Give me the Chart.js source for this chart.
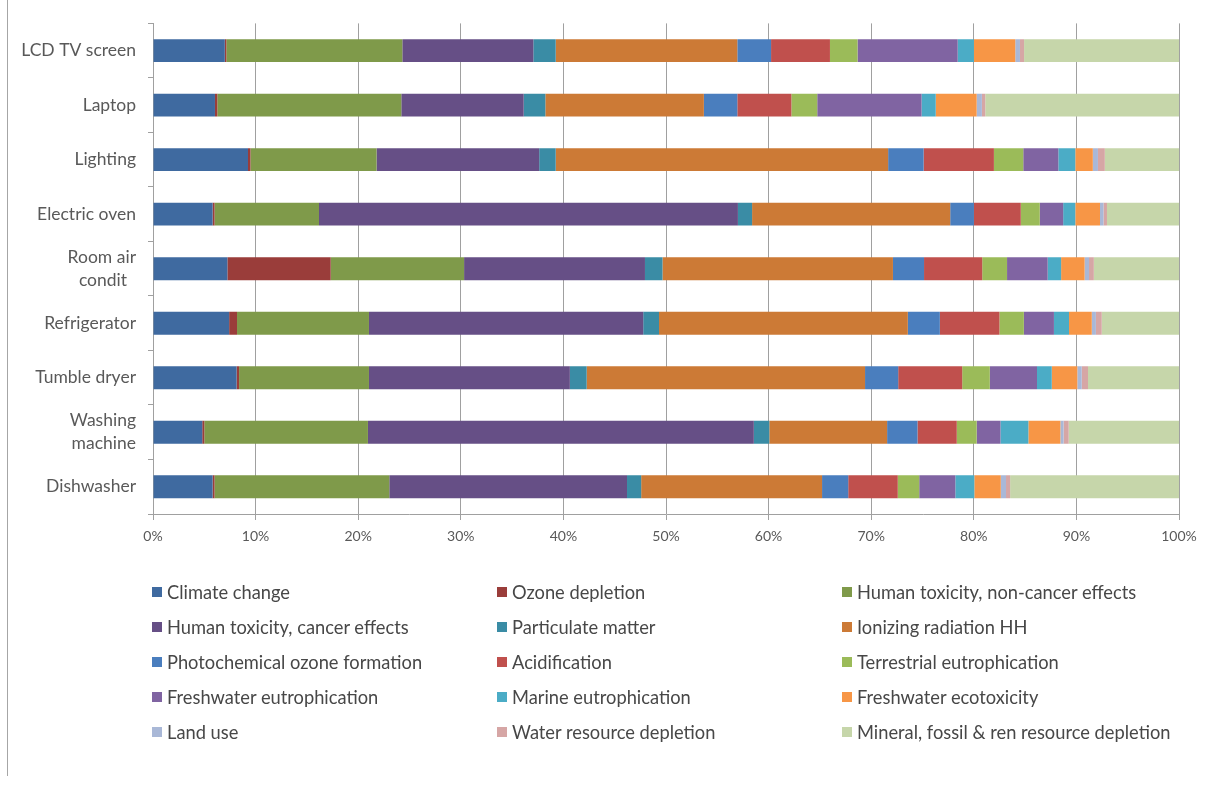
<!DOCTYPE html>
<html>
<head>
<meta charset="utf-8">
<script src="https://cdn.jsdelivr.net/npm/chart.js@4/dist/chart.umd.min.js"></script>
<style>
  html, body { margin: 0; padding: 0; background: #ffffff; }
  #wrap { position: relative; width: 1213px; height: 790px; overflow: hidden; background: #ffffff; }
  #frameLine { position: absolute; left: 7px; top: 0; width: 1px; height: 776px; background: #a6a6a6; }
  #chart { position: absolute; left: 0; top: 0; }
  #legend {
    position: absolute; left: 152px; top: 574px;
    display: grid; grid-template-columns: 345px 345px 340px; grid-auto-rows: 35.1px;
    font-family: Lato, "Open Sans", sans-serif; font-size: 18.3px; color: #474747;
  }
  .item { display: flex; align-items: center; white-space: nowrap; }
  .swatch { width: 10px; height: 10px; margin-right: 5px; flex: 0 0 auto; }
</style>
</head>
<body>
<div id="wrap">
  <div id="frameLine"></div>
  <canvas id="chart" width="1213" height="790"></canvas>
  <div id="legend"></div>
</div>
<script>
// Appliances, listed top to bottom
const appliances = ['LCD TV screen', 'Laptop', 'Lighting', 'Electric oven', ['Room air', 'condit  '],
  'Refrigerator', 'Tumble dryer', ['Washing', 'machine'], 'Dishwasher'];

// Share (%) of each impact category in every appliance's total
const climateChange     = [7.00, 6.04, 9.26, 5.81, 7.25, 7.42, 8.15, 4.80, 5.81];
const ozoneDepletion    = [0.15, 0.23, 0.24, 0.19, 10.07, 0.77, 0.24, 0.20, 0.19];
const humanToxNonCancer = [17.15, 17.93, 12.29, 10.18, 13.00, 12.86, 12.66, 15.95, 17.03];
const humanToxCancer    = [12.77, 11.93, 15.85, 40.83, 17.63, 26.73, 19.58, 37.61, 23.17];
const particulateMatter = [2.18, 2.11, 1.61, 1.38, 1.71, 1.54, 1.64, 1.51, 1.38];
const ionizingRadiation = [17.70, 15.45, 32.40, 19.31, 22.46, 24.25, 27.13, 11.48, 17.63];
const photochemOzone    = [3.29, 3.26, 3.46, 2.31, 3.03, 3.12, 3.23, 2.96, 2.55];
const acidification     = [5.74, 5.27, 6.85, 4.57, 5.67, 5.81, 6.24, 3.83, 4.83];
const terrestrialEutro  = [2.69, 2.52, 2.86, 1.85, 2.42, 2.38, 2.69, 1.94, 2.09];
const freshwaterEutro   = [9.76, 10.17, 3.42, 2.28, 3.96, 2.93, 4.60, 2.32, 3.52];
const marineEutro       = [1.58, 1.38, 1.65, 1.18, 1.31, 1.47, 1.44, 2.72, 1.85];
const freshwaterEcotox  = [4.03, 3.99, 1.71, 2.41, 2.29, 2.22, 2.49, 3.12, 2.58];
const landUse           = [0.46, 0.51, 0.50, 0.34, 0.43, 0.40, 0.43, 0.31, 0.51];
const waterDepletion    = [0.40, 0.33, 0.67, 0.34, 0.47, 0.57, 0.61, 0.50, 0.40];
const mineralDepletion  = [15.10, 18.88, 7.23, 7.02, 8.30, 7.53, 8.87, 10.75, 16.46];

const seriesNames = ['Climate change', 'Ozone depletion', 'Human toxicity, non-cancer effects',
  'Human toxicity, cancer effects', 'Particulate matter', 'Ionizing radiation HH',
  'Photochemical ozone formation', 'Acidification', 'Terrestrial eutrophication',
  'Freshwater eutrophication', 'Marine eutrophication', 'Freshwater ecotoxicity',
  'Land use', 'Water resource depletion', 'Mineral, fossil & ren resource depletion'];

const seriesValues = [climateChange, ozoneDepletion, humanToxNonCancer, humanToxCancer,
  particulateMatter, ionizingRadiation, photochemOzone, acidification, terrestrialEutro,
  freshwaterEutro, marineEutro, freshwaterEcotox, landUse, waterDepletion, mineralDepletion];

const seriesColors = ['#3f6aa0', '#9a3d3a', '#7f9a4a', '#664f86', '#3a8ca5', '#cc7a36',
  '#4a7ebe', '#c0504d', '#9bbb59', '#8064a2', '#4bacc6', '#f79646',
  '#a9b8d7', '#d6a6a5', '#c6d6aa'];

const percentTicks = [0, 10, 20, 30, 40, 50, 60, 70, 80, 90, 100];

const axisGray = '#a0a0a0';
const labelColor = '#595959';

const datasets = seriesNames.map((name, i) => ({
  label: name,
  data: seriesValues[i],
  backgroundColor: seriesColors[i],
  borderWidth: 0,
  categoryPercentage: 0.84,
  barPercentage: 0.5
}));

const chart = new Chart(document.getElementById('chart'), {
  type: 'bar',
  data: { labels: appliances, datasets },
  options: {
    indexAxis: 'y',
    responsive: false,
    animation: false,
    layout: { padding: { left: 0, top: 23, right: 34, bottom: 236 } },
    plugins: { legend: { display: false }, tooltip: { enabled: false } },
    scales: {
      x: {
        stacked: true,
        min: 0, max: 100,
        afterBuildTicks: s => { s.ticks = percentTicks.map(v => ({ value: v })); },
        afterFit: s => { s.height = 40; },
        ticks: {
          callback: v => v + '%',
          color: labelColor,
          font: { family: 'Lato', size: 14 },
          padding: 8
        },
        grid: { color: axisGray, lineWidth: 1, tickLength: 6, drawTicks: true },
        border: { color: axisGray, width: 1 }
      },
      y: {
        stacked: true,
        afterFit: s => { s.width = 153; },
        ticks: {
          color: labelColor,
          font: { family: 'Lato', size: 17.5, lineHeight: 1.3 },
          padding: 12
        },
        grid: { offset: true, drawOnChartArea: false, color: axisGray, tickLength: 5 },
        border: { color: axisGray, width: 1 }
      }
    }
  }
});

// Legend laid out in three columns, built from the chart's datasets
const legendEl = document.getElementById('legend');
chart.data.datasets.forEach(ds => {
  const item = document.createElement('div');
  item.className = 'item';
  const sw = document.createElement('span');
  sw.className = 'swatch';
  sw.style.background = ds.backgroundColor;
  const txt = document.createElement('span');
  txt.textContent = ds.label;
  item.appendChild(sw);
  item.appendChild(txt);
  legendEl.appendChild(item);
});
</script>
</body>
</html>
